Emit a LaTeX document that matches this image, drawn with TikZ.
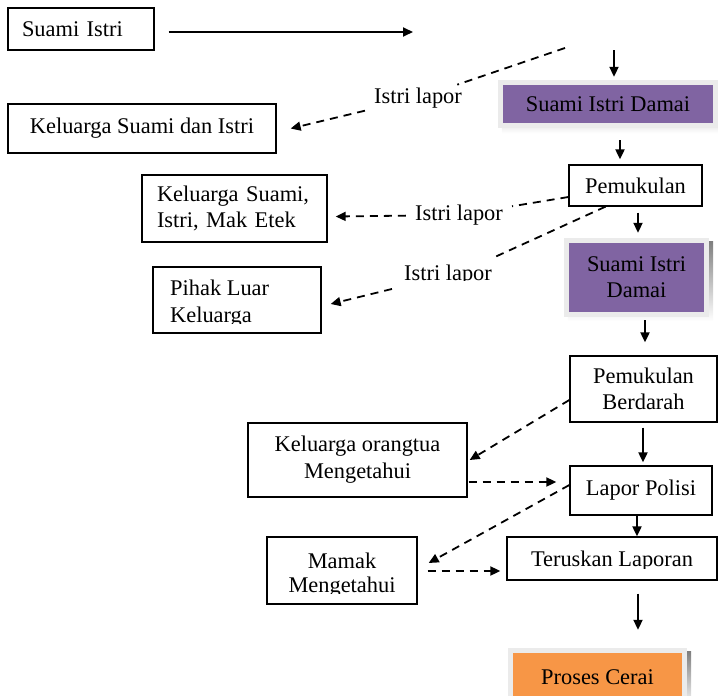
\documentclass[tikz,border=0pt]{standalone}
\usepackage{fontspec}
\setmainfont{Liberation Serif}
\usetikzlibrary{arrows.meta,backgrounds}

\definecolor{damai}{HTML}{8064A2}
\definecolor{cerai}{HTML}{F79646}
\definecolor{glow}{gray}{0.92}
\definecolor{shade}{gray}{0.62}

\tikzset{
  every node/.style={font=\fontsize{22.4}{26}\selectfont},
  box/.style={draw=black, line width=1.3pt, fill=white, inner sep=0pt, align=center},
  tint/.style={fill=#1, draw=none, inner sep=0pt, align=center},
  plain/.style={inner sep=0pt},
  tag/.style={inner xsep=9pt, inner ysep=3pt},
  flow/.style={line width=2pt, -{Triangle[length=10pt,width=9pt]}},
  linkseg/.style={line width=1.8pt, dash pattern=on 8pt off 6pt},
  link/.style={linkseg, -{Triangle[length=10pt,width=9pt]}},
}

\begin{document}
\begin{tikzpicture}[x=1pt,y=-1pt]
\useasboundingbox (0,0) rectangle (718,696);

% ---------- boxes ----------
\node[box, text width=118pt, inner xsep=14pt, align=left, minimum height=42pt] (si) at (81,29) {Suami Istri};
\node[box, minimum width=268pt, minimum height=49pt] (ksi) at (142,128.5) {Keluarga Suami dan Istri};
\node[box, minimum width=133pt, minimum height=41pt] (pem) at (635.5,185.5) {Pemukulan};
\node[box, text width=155pt, inner xsep=15pt, align=left, minimum height=67pt] (kmak) at (234.5,208.5) {Keluarga Suami,\\Istri, Mak Etek};

\node[box, minimum width=168pt, minimum height=66pt] (pl) at (237,300) {};
\node[plain, anchor=base west] (pl1) at (170,295) {Pihak Luar};
\begin{scope}
  \clip (150,300) rectangle (330,323);
  \node[plain, anchor=base west] (pl2) at (170,322) {Keluarga};
\end{scope}

\node[box, minimum width=147pt, minimum height=66pt] (pb) at (643.5,389) {Pemukulan\\Berdarah};
\node[box, minimum width=219pt, minimum height=74pt] (ko) at (357.5,460) {Keluarga orangtua\\[1pt]Mengetahui};
\node[box, minimum width=142pt, minimum height=49pt] (lp) at (641,490.5) {Lapor Polisi};

\node[box, minimum width=150pt, minimum height=67pt] (mm) at (342,570.5) {};
\node[plain, anchor=base] (mm1) at (342,568) {Mamak};
\begin{scope}
  \clip (270,575) rectangle (414,593);
  \node[plain, anchor=base] (mm2) at (342,592) {Mengetahui};
\end{scope}

\node[box, minimum width=210pt, minimum height=43pt] (tl) at (612,558.5) {};
\begin{scope}
  \clip (510,540) rectangle (714,568.5);
  \node[plain, anchor=base] (tl1) at (612,566.5) {Teruskan Laporan};
\end{scope}

% ---------- coloured boxes with glow and shadow ----------
\node[tint=damai, minimum width=210pt, minimum height=38pt] (d1) at (608,104) {Suami Istri Damai};
\node[tint=damai, minimum width=135pt, minimum height=69pt] (d2) at (636.5,277.5) {Suami Istri\\Damai};
\node[tint=cerai, minimum width=169pt, minimum height=48pt] (pc) at (597.5,677) {Proses Cerai};

\begin{scope}[on background layer]
  \fill[shade] ([shift={(-1,0)}]d1.north west) rectangle ([shift={(9,10)}]d1.south east);
  \fill[glow] ([shift={(-5,-5)}]d1.north west) rectangle ([shift={(5,5)}]d1.south east);
  \fill[shade] ([shift={(-1,-1)}]d2.north west) rectangle ([shift={(9,9)}]d2.south east);
  \fill[glow] ([shift={(-5,-5)}]d2.north west) rectangle ([shift={(5,5)}]d2.south east);
  \fill[shade] ([shift={(-1,-1)}]pc.north west) rectangle ([shift={(9,9)}]pc.south east);
  \fill[glow] ([shift={(-5,-5)}]pc.north west) rectangle ([shift={(5,5)}]pc.south east);
\end{scope}

% ---------- labels on the report lines ----------
\node[tag] (lab1) at (418,98) {Istri lapor};
\node[tag] (lab2) at (459,215) {Istri lapor};
\begin{scope}
  \clip (390,250) rectangle (510,280.5);
  \node[plain, anchor=base] (lab3) at (448,280) {Istri lapor};
\end{scope}

% ---------- main flow ----------
\coordinate (a1end) at (413,32);
\coordinate (a2top) at (614,50);
\draw[flow] ([shift={(14,3)}]si.east) -- (a1end);
\draw[flow] (a2top) -- ([shift={(6,-8)}]d1.north);
\draw[flow] ([shift={(12,17)}]d1.south) -- ([shift={(-15.5,-5)}]pem.north);
\draw[flow] ([shift={(2.5,6)}]pem.south) -- ([shift={(1.5,-10)}]d2.north);
\draw[flow] ([shift={(8.5,8)}]d2.south) -- ([shift={(1.5,-13)}]pb.north);
\draw[flow] ([shift={(-0.5,5)}]pb.south) -- ([shift={(2,-3)}]lp.north);
\draw[flow] ([shift={(-4,0)}]lp.south) -- ([shift={(25,0)}]tl.north);
\draw[flow] ([shift={(26,13)}]tl.south) -- ([shift={(40.5,-23)}]pc.north);

% ---------- reports (dashed) ----------
\coordinate (r1) at (565,48);
\draw[linkseg] (r1) -- (lab1);
\draw[link] (lab1) -- ([shift={(14,0)}]ksi.east);

\draw[linkseg] ([shift={(0,11.5)}]pem.west) -- (lab2);
\draw[link] (lab2) -- ([shift={(8,8)}]kmak.east);

\draw[linkseg] ([shift={(-30,0)}]pem.south) -- ([shift={(0,-6)}]lab3.north east);
\draw[link] ([shift={(-12,4)}]lab3.south west) -- ([shift={(9,4)}]pl.east);

\draw[link] ([shift={(0,11)}]pb.west) -- ([shift={(2,0)}]ko.east);
\draw[link] ([shift={(1,22)}]ko.east) -- ([shift={(-13,-8.5)}]lp.west);
\draw[link] ([shift={(0,-5.5)}]lp.west) -- ([shift={(11,-7.5)}]mm.east);
\draw[link] ([shift={(10,0.5)}]mm.east) -- ([shift={(-6,12.5)}]tl.west);
\end{tikzpicture}
\end{document}
